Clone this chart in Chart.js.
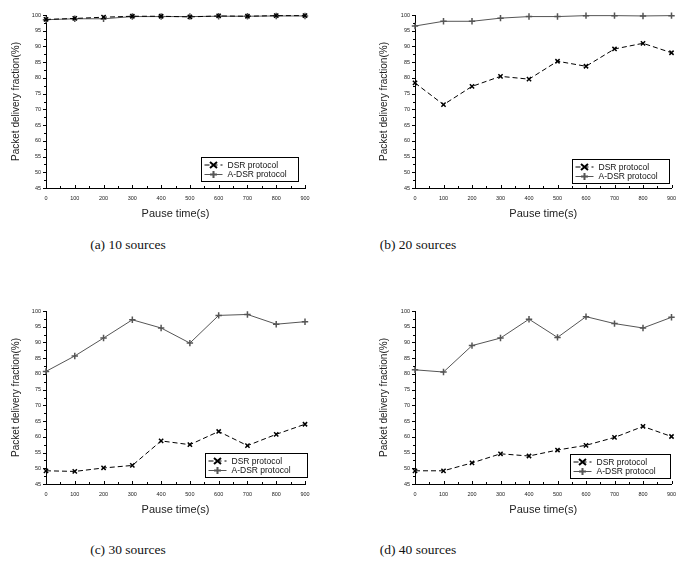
<!DOCTYPE html>
<html>
<head>
<meta charset="utf-8">
<script src="https://cdn.jsdelivr.net/npm/chart.js@4.4.1/dist/chart.umd.min.js"></script>
<style>
  body { margin: 0; background: #fff; }
  #page { position: relative; width: 677px; height: 570px; overflow: hidden; }
  .panel { position: absolute; width: 338px; height: 230px; }
  .caption { position: absolute; font-family: "Liberation Serif", "Times New Roman", serif; font-size: 13.5px; color: #111; transform: translateX(-50%); white-space: nowrap; }
</style>
</head>
<body>
<div id="page">
  <div class="panel" style="left:0;top:0"><canvas id="c10"></canvas></div>
  <div class="panel" style="left:339px;top:0"><canvas id="c20"></canvas></div>
  <div class="panel" style="left:0;top:296px"><canvas id="c30"></canvas></div>
  <div class="panel" style="left:339px;top:296px"><canvas id="c40"></canvas></div>
  <div class="caption" style="left:128px;top:237px">(a) 10 sources</div>
  <div class="caption" style="left:418px;top:237px">(b) 20 sources</div>
  <div class="caption" style="left:128px;top:542px">(c) 30 sources</div>
  <div class="caption" style="left:418px;top:542px">(d) 40 sources</div>
</div>
<script>
// pause time (s) on the x axis
const pauseTimes = [0, 100, 200, 300, 400, 500, 600, 700, 800, 900];

// packet delivery fraction (%)
const dsr10  = [98.6, 98.9, 99.3, 99.6, 99.6, 99.4, 99.7, 99.6, 99.8, 99.8];
const adsr10 = [98.5, 98.8, 98.8, 99.5, 99.5, 99.5, 99.6, 99.6, 99.7, 99.7];

const dsr20  = [78.4, 71.5, 77.3, 80.5, 79.6, 85.3, 83.7, 89.2, 91.0, 88.0];
const adsr20 = [96.5, 98.0, 98.0, 99.0, 99.5, 99.5, 99.8, 99.8, 99.7, 99.8];

const dsr30  = [49.2, 49.0, 50.1, 50.9, 58.7, 57.5, 61.7, 57.2, 60.8, 64.0];
const adsr30 = [80.8, 85.7, 91.4, 97.2, 94.6, 89.8, 98.6, 98.9, 95.8, 96.6];

const dsr40  = [49.2, 49.2, 51.7, 54.6, 53.9, 55.8, 57.3, 59.8, 63.3, 60.1];
const adsr40 = [81.3, 80.6, 89.0, 91.4, 97.4, 91.6, 98.2, 96.0, 94.6, 98.0];

const seriesNames = ['DSR protocol', 'A-DSR protocol'];
const yMin = 45, yMax = 100, xMin = 0, xMax = 900;

const FONT = '"Liberation Sans", Arial, sans-serif';

// minor/major tick marks: x ticks point inward, y ticks point outward
const tickMarks = {
  id: 'tickMarks',
  afterDraw(chart) {
    const { ctx, chartArea } = chart;
    const xs = chart.scales.x, ys = chart.scales.y;
    ctx.save();
    ctx.strokeStyle = '#000';
    ctx.lineWidth = 1;
    ctx.beginPath();
    for (let v = xMin; v <= xMax; v += 50) {
      const px = Math.round(xs.getPixelForValue(v)) + 0.5;
      const len = v % 100 === 0 ? 3 : 2;
      ctx.moveTo(px, chartArea.bottom);
      ctx.lineTo(px, chartArea.bottom - len);
    }
    for (let v = yMin; v <= yMax; v += 2.5) {
      const py = Math.round(ys.getPixelForValue(v)) + 0.5;
      const len = v % 5 === 0 ? 3 : 2;
      ctx.moveTo(chartArea.left, py);
      ctx.lineTo(chartArea.left - len, py);
    }
    ctx.stroke();
    ctx.restore();
  }
};

// boxed legend sitting in the lower right of the plot
const boxLegend = {
  id: 'boxLegend',
  afterDraw(chart, args, opts) {
    const { ctx, chartArea } = chart;
    const w = opts.w, h = 24;
    const x0 = Math.round(chartArea.right - opts.dx - w) + 0.5;
    const y0 = Math.round(chartArea.bottom - opts.dy - h) + 0.5;
    ctx.save();
    ctx.strokeStyle = '#000';
    ctx.lineWidth = 1;
    ctx.strokeRect(x0, y0, w, h);

    const rows = [y0 + 7.5, y0 + 17];
    chart.data.datasets.forEach((ds, i) => {
      const y = rows[i];
      ctx.strokeStyle = ds.borderColor;
      ctx.lineWidth = 1;
      ctx.setLineDash(ds.borderDash || []);
      ctx.beginPath();
      ctx.moveTo(x0 + 3, y);
      ctx.lineTo(x0 + 21, y);
      ctx.stroke();
      ctx.setLineDash([]);
      const cx = x0 + 12;
      ctx.lineWidth = 2;
      ctx.beginPath();
      if (ds.pointStyle === 'crossRot') {
        ctx.strokeStyle = '#000';
        ctx.moveTo(cx - 3.5, y - 3); ctx.lineTo(cx + 3.5, y + 3);
        ctx.moveTo(cx + 3.5, y - 3); ctx.lineTo(cx - 3.5, y + 3);
      } else {
        ctx.strokeStyle = ds.borderColor;
        ctx.moveTo(cx - 3.5, y); ctx.lineTo(cx + 3.5, y);
        ctx.moveTo(cx, y - 3.5); ctx.lineTo(cx, y + 3.5);
      }
      ctx.stroke();
      ctx.fillStyle = '#111';
      ctx.font = '8.5px ' + FONT;
      ctx.textBaseline = 'middle';
      ctx.fillText(ds.label, x0 + 26, y + 0.5);
    });
    ctx.restore();
  }
};

function makeChart(id, dsr, adsr, layout) {
  const toPoints = vals => pauseTimes.map((t, i) => ({ x: t, y: vals[i] }));
  return new Chart(document.getElementById(id), {
    type: 'line',
    data: {
      datasets: [
        {
          label: seriesNames[0],
          data: toPoints(dsr),
          borderColor: '#000',
          borderWidth: 1,
          borderDash: [5, 3],
          pointStyle: 'crossRot',
          pointRadius: 3,
          pointBorderWidth: 1.5,
          pointBorderColor: '#000',
          tension: 0
        },
        {
          label: seriesNames[1],
          data: toPoints(adsr),
          borderColor: '#555',
          borderWidth: 1,
          pointStyle: 'cross',
          pointRadius: 3.2,
          pointBorderWidth: 1.5,
          pointBorderColor: '#555',
          tension: 0
        }
      ]
    },
    options: {
      responsive: true,
      maintainAspectRatio: false,
      animation: false,
      clip: false,
      layout: { padding: { top: 15, right: layout.right, left: layout.left, bottom: 0 } },
      plugins: {
        legend: { display: false },
        tooltip: { enabled: false },
        boxLegend: layout.legend
      },
      scales: {
        x: {
          type: 'linear',
          min: xMin,
          max: xMax,
          grid: { display: false, drawTicks: false },
          border: { display: true, color: '#000', width: 1 },
          ticks: { stepSize: 100, padding: 7, maxRotation: 0, color: '#222', font: { family: FONT, size: 5.5 } },
          title: { display: true, text: 'Pause time(s)', color: '#222', font: { family: FONT, size: 11 }, padding: { top: 0, bottom: 9 } },
          afterFit: s => { s.height = 42; s.paddingLeft = 0; s.paddingRight = 0; }
        },
        y: {
          min: yMin,
          max: yMax,
          grid: { display: false, drawTicks: false },
          border: { display: true, color: '#000', width: 1 },
          ticks: { stepSize: 5, padding: 5, color: '#222', font: { family: FONT, size: 5.5 } },
          title: { display: true, text: 'Packet delivery fraction(%)', color: '#222', font: { family: FONT, size: 10 }, padding: { top: 4, bottom: 0 } },
          afterFit: s => { s.width = layout.yWidth; s.paddingTop = 0; s.paddingBottom = 0; }
        }
      }
    },
    plugins: [tickMarks, boxLegend]
  });
}

makeChart('c10', dsr10, adsr10, { left: 6, yWidth: 40, right: 33, legend: { dx: 7, dy: 7, w: 97 } });
makeChart('c20', dsr20, adsr20, { left: 35, yWidth: 41, right: 5, legend: { dx: 3, dy: 5, w: 97 } });
makeChart('c30', dsr30, adsr30, { left: 6, yWidth: 40, right: 33, legend: { dx: -2, dy: 7, w: 102 } });
makeChart('c40', dsr40, adsr40, { left: 35, yWidth: 41, right: 5, legend: { dx: 2, dy: 6, w: 100 } });
</script>
</body>
</html>
